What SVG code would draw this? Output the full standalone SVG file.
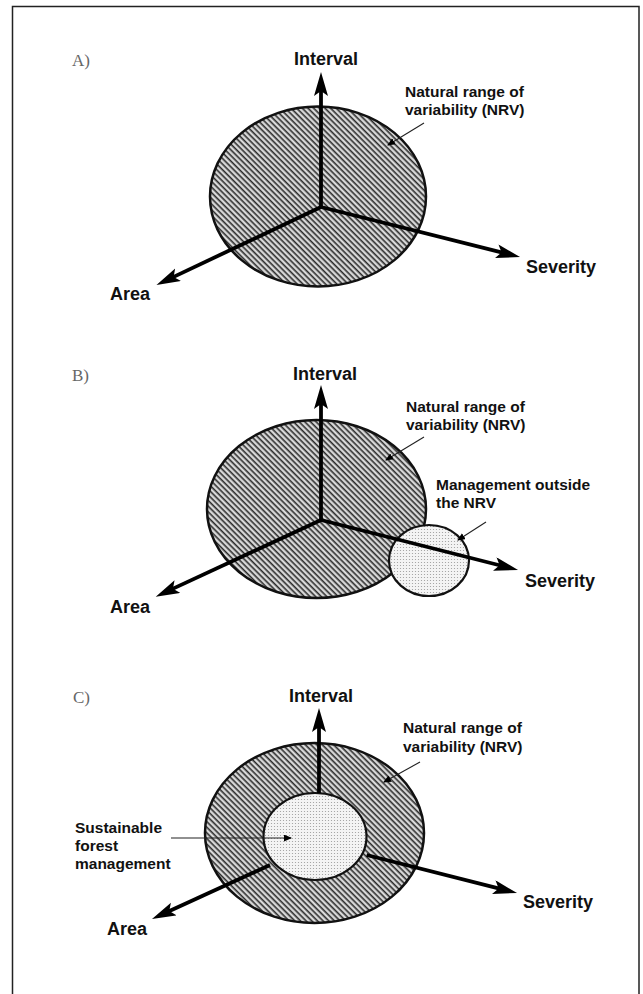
<svg xmlns="http://www.w3.org/2000/svg" width="643" height="994" viewBox="0 0 643 994">
<style>
.lbl{font-family:"Liberation Sans",Arial,sans-serif;font-weight:bold;font-size:18px;fill:#111}
.note{font-family:"Liberation Sans",Arial,sans-serif;font-weight:bold;font-size:15.5px;fill:#111}
.panel{font-family:"Liberation Serif","Times New Roman",serif;font-size:17px;fill:#666}
.nrv{fill:url(#hatch);stroke:#111;stroke-width:2.5}
.sfm{fill:url(#dots);stroke:#111;stroke-width:2.2}
.axis{stroke:#000;stroke-width:3.8;fill:none;marker-end:url(#big)}
.lead{stroke:#222;stroke-width:1.1;fill:none;marker-end:url(#small)}
</style>
<defs>
<pattern id="hatch" patternUnits="userSpaceOnUse" width="4" height="10" patternTransform="rotate(-45)">
<rect width="4" height="10" fill="#e4e4e4"/>
<line x1="1.3" y1="0" x2="1.3" y2="10" stroke="#2a2a2a" stroke-width="1.7"/>
</pattern>
<pattern id="dots" patternUnits="userSpaceOnUse" width="3" height="3">
<rect width="3" height="3" fill="#f4f4f4"/>
<circle cx="1.5" cy="1.5" r="0.6" fill="#9a9a9a"/>
</pattern>
<marker id="big" markerUnits="userSpaceOnUse" markerWidth="26" markerHeight="15" refX="12" refY="7" orient="auto">
<path d="M0,0 L24,7 L0,14 L5,7 z" fill="#000"/>
</marker>
<marker id="small" markerUnits="userSpaceOnUse" markerWidth="9" markerHeight="8" refX="7" refY="3.5" orient="auto">
<path d="M0,0 L8,3.5 L0,7 z" fill="#000"/>
</marker>
</defs>
<rect width="643" height="994" fill="#fff"/>
<path d="M12.5,994 V6.5 H639 V994" fill="none" stroke="#222" stroke-width="1.5"/>

<!-- Panel A -->
<g id="label-A"><text class="panel" x="72" y="66">A)</text></g>
<g id="A-nrv"><ellipse class="nrv" cx="318" cy="196.5" rx="108" ry="90"/></g>
<g id="A-interval"><text class="lbl" x="326" y="65" text-anchor="middle">Interval</text></g>
<g id="A-area"><text class="lbl" x="110" y="300">Area</text></g>
<g id="A-severity"><text class="lbl" x="526" y="273">Severity</text></g>
<g id="A-nrv-label"><text class="note" x="405" y="97">Natural range of</text><text class="note" x="405" y="115">variability (NRV)</text></g>

<!-- Panel B -->
<g id="label-B"><text class="panel" x="72" y="381">B)</text></g>
<g id="B-nrv"><ellipse class="nrv" cx="316.5" cy="509" rx="109.5" ry="89"/></g>
<g id="B-outside"><ellipse class="sfm" cx="429" cy="560.5" rx="40" ry="35.5"/></g>
<g id="B-interval"><text class="lbl" x="325" y="380" text-anchor="middle">Interval</text></g>
<g id="B-area"><text class="lbl" x="110" y="613">Area</text></g>
<g id="B-severity"><text class="lbl" x="525" y="587">Severity</text></g>
<g id="B-nrv-label"><text class="note" x="406" y="412">Natural range of</text><text class="note" x="406" y="430">variability (NRV)</text></g>
<g id="B-outside-label"><text class="note" x="436" y="490">Management outside</text><text class="note" x="436" y="508">the NRV</text></g>

<!-- Panel C -->
<g id="label-C"><text class="panel" x="73" y="703">C)</text></g>
<g id="C-nrv"><ellipse class="nrv" cx="314.5" cy="833" rx="109.5" ry="90"/></g>
<g id="C-sfm"><ellipse class="sfm" cx="315" cy="836.5" rx="51.5" ry="43.5"/></g>
<g id="C-interval"><text class="lbl" x="321" y="702" text-anchor="middle">Interval</text></g>
<g id="C-area"><text class="lbl" x="107" y="935">Area</text></g>
<g id="C-severity"><text class="lbl" x="523" y="908">Severity</text></g>
<g id="C-nrv-label"><text class="note" x="403" y="733">Natural range of</text><text class="note" x="403" y="752">variability (NRV)</text></g>
<g id="C-sfm-label"><text class="note" x="75" y="833">Sustainable</text><text class="note" x="75" y="851">forest</text><text class="note" x="75" y="869">management</text></g>

<g id="connectors">
<line class="axis" x1="321" y1="207" x2="321" y2="84"/>
<line class="axis" x1="321" y1="207" x2="508.4" y2="254.1"/>
<line class="axis" x1="321" y1="207" x2="167.3" y2="279.9"/>
<line class="lead" x1="424" y1="123" x2="388" y2="145"/>

<line class="axis" x1="321" y1="520" x2="321" y2="397"/>
<line class="axis" x1="321" y1="520" x2="506.4" y2="567"/>
<line class="axis" x1="321" y1="520" x2="166.6" y2="591.6"/>
<line class="lead" x1="424" y1="437" x2="386" y2="460"/>
<line class="lead" x1="486" y1="522" x2="458" y2="540"/>

<line class="axis" x1="319" y1="793" x2="319" y2="720"/>
<line class="axis" x1="366.6" y1="855" x2="505.4" y2="890.1"/>
<line class="axis" x1="270" y1="865" x2="162.9" y2="914"/>
<line class="lead" x1="420" y1="762" x2="384" y2="782"/>
<line class="lead" x1="171" y1="838" x2="291" y2="838"/>
</g>
</svg>
